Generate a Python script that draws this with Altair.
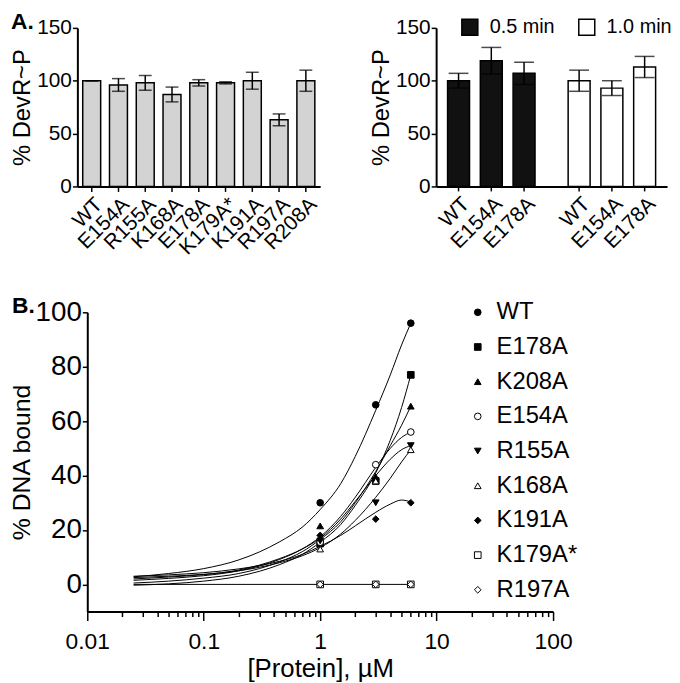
import altair as alt
import pandas as pd

FONT = "Liberation Sans"

# ---------------- Panel A (left) ----------------
a1_strains = ["WT", "E154A", "R155A", "K168A", "E178A", "K179A*", "K191A", "R197A", "R208A"]
a1_values = [100, 96, 98, 87, 98, 98, 100, 63, 100]
a1_errors = [0, 6, 7, 7, 3, 1, 8, 5.6, 10]

# ---------------- Panel A (right) ----------------
a2_times = ["0.5 min", "0.5 min", "0.5 min", "1.0 min", "1.0 min", "1.0 min"]
a2_strains = ["WT", "E154A", "E178A", "WT", "E154A", "E178A"]
a2_values = [100, 119, 107, 100, 93, 113]
a2_errors = [7, 12.5, 10.5, 10, 7, 10]
a2_time_order = ["0.5 min", "1.0 min"]
a2_strain_order = ["WT", "E154A", "E178A"]

# ---------------- Panel B ----------------
b_strains = ["WT", "E178A", "K208A", "E154A", "R155A", "K168A", "K191A", "K179A*", "R197A"]
b_shapes = ["circle", "square", "triangle-up", "circle", "triangle-down", "triangle-up",
            "diamond", "square", "diamond"]
b_fills = ["black", "black", "black", "white", "black", "white", "black", "white", "white"]
b_strokes = ["black"] * 9
b_conc = [1, 3, 6]
wt_pts = [30, 66, 96]
e178a_pts = [15, 38, 77]
k208a_pts = [21.5, 39.5, 65.5]
e154a_pts = [15.5, 44, 56]
r155a_pts = [16, 30, 51]
k168a_pts = [13, 38, 49.5]
k191a_pts = [18, 24, 30]
k179a_pts = [0, 0, 0]
r197a_pts = [0, 0, 0]

curve_x = [0.025, 0.05, 0.1, 0.2, 0.45, 0.7, 1, 1.5, 2, 3, 4, 5, 6]
wt_curve = [2.8, 4.0, 5.8, 9, 15.7, 21, 27.5, 37, 47, 64, 77, 88, 96]
e178a_curve = [-0.3, 0.2, 1.2, 3, 7.3, 11, 15.5, 22, 29, 41, 53, 65, 77]
k208a_curve = [0.5, 1.2, 2.3, 4, 8.3, 12, 16.5, 23, 30, 41.5, 51, 58.5, 65.5]
e154a_curve = [1.5, 2.2, 3.2, 5, 9.2, 13, 17.5, 25, 32, 43, 50, 54, 56]
r155a_curve = [2, 2.7, 3.6, 5.3, 9.5, 13, 17, 24, 30.5, 40, 46, 49.5, 51]
k168a_curve = [2.5, 3, 3.7, 5, 8, 10.5, 13.5, 18.5, 23.5, 32, 39, 45, 49.5]
k191a_curve = [3, 3.5, 4.3, 5.7, 8.5, 11, 14, 18, 21.5, 26.5, 29.5, 31, 30.3]
zero_x = [0.025, 6]
zero_curve = [0, 0]

decades = [0.01, 0.1, 1, 10]
multipliers = [1, 2, 3, 4, 5, 6, 7, 8, 9]
x_tick_values = [round(d * m, 6) for d in decades for m in multipliers] + [100]

# ================= build panel A left =================
df1 = pd.DataFrame({"strain": a1_strains, "value": a1_values, "err": a1_errors})
df1["lo"] = df1["value"] - df1["err"]
df1["hi"] = df1["value"] + df1["err"]

yaxisA = dict(values=[0, 50, 100, 150], title="% DevR~P", titleFontSize=24, titleFontWeight="normal",
              labelFontSize=21, tickSize=5, labelPadding=1, titlePadding=2, domainWidth=2,
              tickWidth=1.5)
x1 = alt.X("strain:N", sort=a1_strains, title=None,
           scale=alt.Scale(paddingInner=0.33, paddingOuter=0.2),
           axis=alt.Axis(labelAngle=315, labelAlign="right", labelBaseline="top", labelFontSize=21,
                         tickSize=5, labelPadding=2, domainWidth=2, tickWidth=1.5))
y1 = alt.Y("value:Q", scale=alt.Scale(domain=[0, 150], nice=False), axis=alt.Axis(**yaxisA))

base1 = alt.Chart(df1)
bars1 = base1.mark_bar(fill="#d3d3d3", stroke="black", strokeWidth=1.5).encode(x=x1, y=y1)
rule1 = base1.mark_rule(color="black", strokeWidth=1.5).encode(x=x1, y="lo:Q", y2="hi:Q")
caphi1 = base1.mark_tick(color="black", size=13, thickness=1.5).encode(x=x1, y="hi:Q")
caplo1 = base1.mark_tick(color="black", size=13, thickness=1.5).encode(x=x1, y="lo:Q")
labA = alt.Chart(pd.DataFrame({"t": ["A."]})).mark_text(
    align="left", baseline="top", fontSize=23, fontWeight="bold", font="Liberation Sans"
).encode(text="t:N", x=alt.value(-67), y=alt.value(-17))
panelA1 = alt.layer(bars1, rule1, caphi1, caplo1, labA).properties(width=245, height=160)

# ================= build panel A right =================
df2 = pd.DataFrame({"time": a2_times, "strain": a2_strains, "value": a2_values, "err": a2_errors})
df2["lo"] = df2["value"] - df2["err"]
df2["hi"] = df2["value"] + df2["err"]

x2 = alt.X("time:N", sort=a2_time_order, title=None,
           scale=alt.Scale(paddingInner=0.185, paddingOuter=0.05),
           axis=alt.Axis(labels=False, ticks=False, domainWidth=2))
xo2 = alt.XOffset("strain:N", sort=a2_strain_order,
                  scale=alt.Scale(paddingInner=0.33, paddingOuter=0.165))
y2 = alt.Y("value:Q", scale=alt.Scale(domain=[0, 150], nice=False), axis=alt.Axis(**yaxisA))

base2 = alt.Chart(df2)
bars2 = base2.mark_bar(stroke="black", strokeWidth=1.5).encode(
    x=x2, xOffset=xo2, y=y2,
    fill=alt.Fill("time:N", scale=alt.Scale(domain=a2_time_order, range=["#111111", "#ffffff"]),
                  legend=alt.Legend(title=None, orient="none", legendX=24, legendY=-11,
                                    direction="horizontal", symbolType="square", symbolSize=260,
                                    symbolStrokeColor="black", symbolStrokeWidth=1.5,
                                    labelFontSize=20, labelOffset=10, columnPadding=20,
                                    padding=0, labelColor="black")))
rule2 = base2.mark_rule(color="black", strokeWidth=1.5).encode(x=x2, xOffset=xo2, y="lo:Q", y2="hi:Q")
caphi2 = base2.mark_tick(color="black", size=20, thickness=1.5).encode(x=x2, xOffset=xo2, y="hi:Q")
caplo2 = base2.mark_tick(color="black", size=20, thickness=1.5).encode(x=x2, xOffset=xo2, y="lo:Q")
ticks2 = base2.mark_rule(color="black", strokeWidth=1.5).encode(
    x=x2, xOffset=xo2, y=alt.value(160), y2=alt.value(165))
text2 = base2.mark_text(angle=315, align="right", baseline="top", fontSize=21,
                        font="Liberation Sans", color="black").encode(
    x=x2, xOffset=xo2, y=alt.value(167), text="strain:N")
panelA2 = alt.layer(bars2, rule2, caphi2, caplo2, ticks2, text2).properties(width=233, height=160)

# ================= build panel B =================
pts_lists = [wt_pts, e178a_pts, k208a_pts, e154a_pts, r155a_pts, k168a_pts, k191a_pts,
             k179a_pts, r197a_pts]
rows = []
for s, vals in zip(b_strains, pts_lists):
    for c, v in zip(b_conc, vals):
        rows.append({"strain": s, "conc": c, "bound": v})
dfp = pd.DataFrame(rows)

curve_lists = [("WT", curve_x, wt_curve), ("E178A", curve_x, e178a_curve),
               ("K208A", curve_x, k208a_curve), ("E154A", curve_x, e154a_curve),
               ("R155A", curve_x, r155a_curve), ("K168A", curve_x, k168a_curve),
               ("K191A", curve_x, k191a_curve), ("zero", zero_x, zero_curve)]
crow = []
for s, xs, ys in curve_lists:
    for c, v in zip(xs, ys):
        crow.append({"strain": s, "conc": c, "bound": v})
dfc = pd.DataFrame(crow)

B_SHIFT = 10
B_W = 480
major_test = "abs(log(datum.value)/LN10 - round(log(datum.value)/LN10)) < 0.001"
xB = alt.X("conc:Q", scale=alt.Scale(type="log", domain=[0.01, 100], nice=False,
                                     range=[B_SHIFT, B_W]),
           axis=alt.Axis(values=x_tick_values, format="~g",
                         labelExpr=f"({major_test}) ? datum.label : ''",
                         tickSize={"condition": {"test": major_test, "value": 9}, "value": 5},
                         labelOverlap=False, labelFlush=False, labelFontSize=23, labelPadding=10,
                         title="[Protein], µM", titleFontSize=26, titleFontWeight="normal",
                         titlePadding=2, domainWidth=2, tickWidth=1.5))
yB = alt.Y("bound:Q", scale=alt.Scale(domain=[-10, 100], nice=False),
           axis=alt.Axis(values=[0, 20, 40, 60, 80, 100], title="% DNA bound", titleFontSize=25,
                         titleFontWeight="normal", labelFontSize=28, tickSize=5, labelPadding=1,
                         titlePadding=1, domainWidth=2, tickWidth=1.5, offset=-B_SHIFT))

lines = alt.Chart(dfc).mark_line(color="black", strokeWidth=1, interpolate="monotone").encode(
    x=xB, y=yB, detail="strain:N")
legB = alt.Legend(title=None, orient="none", legendX=392, legendY=-12, labelFontSize=24,
                  labelOffset=7, rowPadding=11, padding=0, symbolSize=45,
                  symbolStrokeColor="black", symbolStrokeWidth=1, labelColor="black")
points = alt.Chart(dfp).mark_point(filled=False, strokeWidth=1, size=45, opacity=1).encode(
    x=xB, y=yB,
    shape=alt.Shape("strain:N", sort=b_strains,
                    scale=alt.Scale(domain=b_strains, range=b_shapes), legend=legB),
    fill=alt.Fill("strain:N", sort=b_strains,
                  scale=alt.Scale(domain=b_strains, range=b_fills), legend=legB),
    stroke=alt.Stroke("strain:N", sort=b_strains,
                      scale=alt.Scale(domain=b_strains, range=b_strokes), legend=legB))
labB = alt.Chart(pd.DataFrame({"t": ["B."]})).mark_text(
    align="left", baseline="top", fontSize=23, fontWeight="bold", font="Liberation Sans"
).encode(text="t:N", x=alt.value(-66), y=alt.value(-17))
panelB = alt.layer(lines, points, labB).properties(width=B_W, height=302)

top = alt.hconcat(panelA1, panelA2, spacing=49).resolve_scale(
    fill="independent").resolve_legend(fill="independent")
chart = alt.vconcat(top, panelB, spacing=37).resolve_scale(
    fill="independent", shape="independent", stroke="independent"
).resolve_legend(
    fill="independent", shape="independent", stroke="independent"
).properties(
    padding={"left": 1, "top": 0, "right": 0, "bottom": 0}
).configure_view(stroke=None).configure_axis(
    labelFont=FONT, titleFont=FONT, labelColor="black", titleColor="black",
    domainColor="black", tickColor="black", grid=False
).configure_legend(labelFont=FONT).configure_text(font=FONT)

chart.save("out.html", embed_options={"renderer": "svg", "actions": False})
